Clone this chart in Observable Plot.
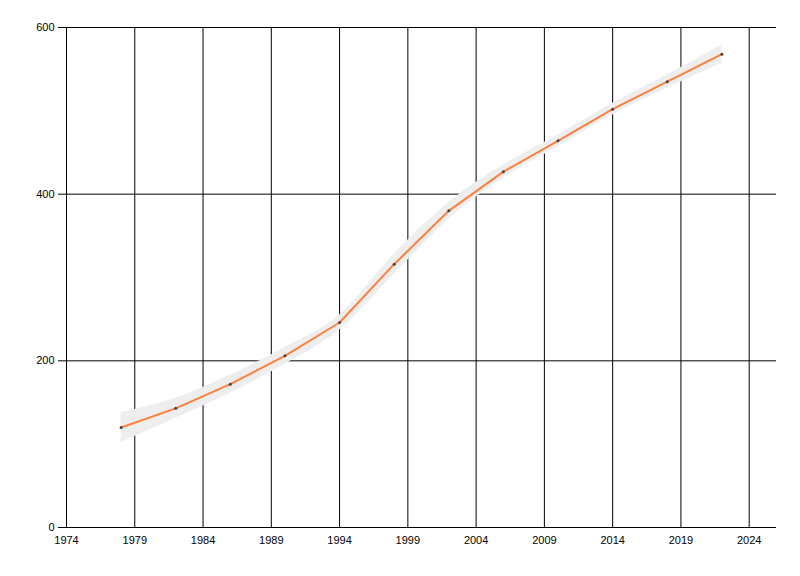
<!DOCTYPE html>
<html>
<head>
<meta charset="utf-8">
<script src="https://cdn.jsdelivr.net/npm/d3@7"></script>
<script src="https://cdn.jsdelivr.net/npm/@observablehq/plot@0.6"></script>
<style>
  html, body { margin: 0; padding: 0; background: #fff; }
  #chart { width: 800px; height: 576px; }
</style>
</head>
<body>
<div id="chart"></div>
<script>
const years  = [1978, 1982, 1986, 1990, 1994, 1998, 2002, 2006, 2010, 2014, 2018, 2022];
const values = [120, 143, 172, 206, 246, 316, 380, 427, 464, 502, 535, 568];
const lower  = [102, 131, 161, 196, 237, 304, 370, 419, 457, 495, 527, 557];
const upper  = [138, 155, 183, 216, 255, 328, 390, 435, 471, 509, 543, 579];
const xTicks = [1974, 1979, 1984, 1989, 1994, 1999, 2004, 2009, 2014, 2019, 2024];
const yTicks = [0, 200, 400, 600];

const data = years.map((y, i) => ({year: y, value: values[i], lo: lower[i], hi: upper[i]}));

const chart = Plot.plot({
  width: 800,
  height: 576,
  marginLeft: 66,
  marginRight: 24,
  marginTop: 27,
  marginBottom: 49,
  style: {fontFamily: "'Liberation Sans', Arial, sans-serif", fontSize: "11px", color: "#000", background: "#fff"},
  x: {domain: [1974, 2026], ticks: xTicks, tickFormat: d => String(d), tickSize: 0, tickPadding: 9, label: null},
  y: {domain: [0, 600], ticks: yTicks, tickSize: 8, tickPadding: 4, label: null},
  marks: [
    Plot.ruleX(xTicks.slice(1), {stroke: "#000", strokeWidth: 1}),
    Plot.ruleY(yTicks.slice(1), {stroke: "#000", strokeWidth: 1}),
    Plot.areaY(data, {x: "year", y1: "lo", y2: "hi", fill: "#eeeeee", curve: "monotone-x"}),
    Plot.line(data, {x: "year", y: "value", stroke: "#ff7f3e", strokeWidth: 2}),
    Plot.dot(data, {x: "year", y: "value", r: 1.5, fill: "#444", stroke: "none"}),
    Plot.ruleX([1974], {stroke: "#000"}),
    Plot.ruleY([0], {stroke: "#000"}),
    Plot.axisX({ticks: xTicks, tickFormat: d => String(d), tickSize: 0, tickPadding: 9, label: null}),
    Plot.axisY({ticks: yTicks, tickSize: 8, tickPadding: 4, label: null})
  ]
});
document.getElementById("chart").appendChild(chart);
</script>
</body>
</html>
